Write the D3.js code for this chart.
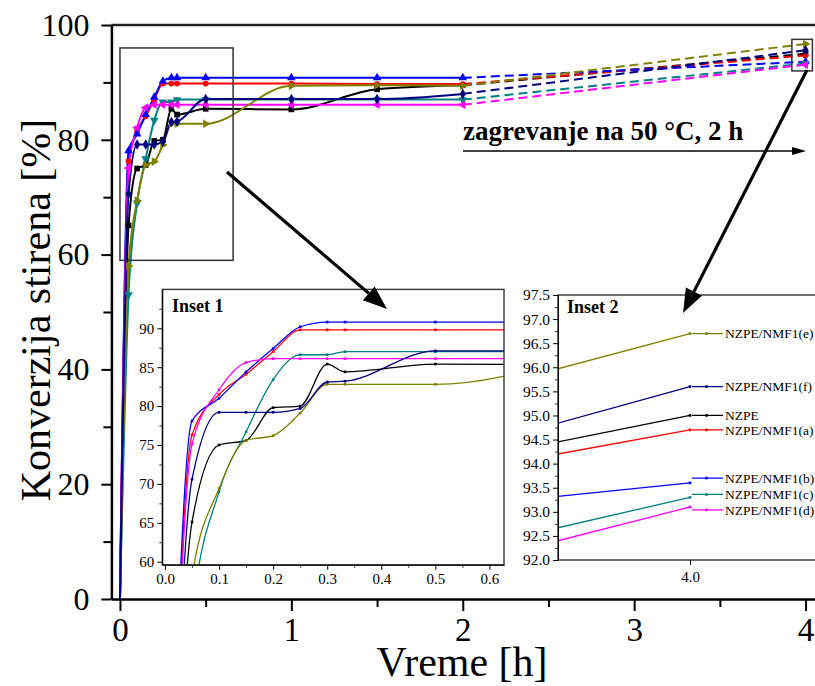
<!DOCTYPE html>
<html>
<head>
<meta charset="utf-8">
<script src="https://cdn.jsdelivr.net/npm/d3@7"></script>
<style>
body { margin: 0; background: #fff; }
svg { display: block; }
</style>
</head>
<body>
<svg id="chart" width="815" height="686"></svg>
<script>
// sampling times [h], conversion [%] per sample
var times = [0, 0.05, 0.1, 0.15, 0.2, 0.25, 0.3, 0.333, 0.5, 1.0, 1.5, 2.0];
var heatTimes = [2.0, 4.0];

var seriesNames = ["NZPE", "NZPE/NMF1(a)", "NZPE/NMF1(b)", "NZPE/NMF1(c)",
	"NZPE/NMF1(d)", "NZPE/NMF1(e)", "NZPE/NMF1(f)"];
var nzpe  = [0, 65.1, 75.0, 75.6, 79.8, 80.0, 85.4, 84.4, 85.4, 85.3, 88.8, 89.5];
var nmf1a = [0, 76.3, 81.5, 84.1, 87.0, 89.8, 89.8, 89.8, 89.8, 89.8, 89.7, 89.7];
var nmf1b = [0, 78.1, 81.0, 84.4, 87.4, 90.2, 90.8, 90.8, 90.8, 90.8, 90.8, 90.8];
var nmf1c = [0, 53.0, 69.0, 76.7, 83.4, 86.6, 86.6, 87.0, 87.0, 87.0, 87.0, 87.0];
var nmf1d = [0, 75.1, 82.1, 85.6, 86.1, 86.1, 86.1, 86.1, 86.1, 86.1, 86.1, 86.1];
var nmf1e = [0, 58.0, 69.4, 75.6, 76.2, 79.1, 82.8, 82.8, 82.8, 89.4, 89.5, 89.4];
var nmf1f = [0, 70.6, 79.2, 79.2, 79.2, 79.7, 83.1, 83.2, 87.1, 87.1, 87.1, 88.0];
// after heating at 50 °C for 2 h (t = 4 h)
var finalValues = [95.0, 94.7, 93.6, 93.3, 93.1, 96.7, 95.6];
// where each legend entry sits in inset 2
var legendValues = [95.0, 94.7, 93.7, 93.36, 93.04, 96.7, 95.6];

var mainXTicks = [0, 1, 2, 3, 4];
var mainXMinor = [0.5, 1.5, 2.5, 3.5];
var mainYTicks = [0, 20, 40, 60, 80, 100];
var mainYMinor = [10, 30, 50, 70, 90];
var in1XTicks = [0, 0.1, 0.2, 0.3, 0.4, 0.5, 0.6];
var in1XMinor = [0.05, 0.15, 0.25, 0.35, 0.45, 0.55];
var in1YTicks = [60, 65, 70, 75, 80, 85, 90];
var in1YMinor = [62.5, 67.5, 72.5, 77.5, 82.5, 87.5, 92.5];
var in2YTicks = [92, 92.5, 93, 93.5, 94, 94.5, 95, 95.5, 96, 96.5, 97, 97.5];
var in2YMinor = [92.25, 92.75, 93.25, 93.75, 94.25, 94.75, 95.25, 95.75, 96.25, 96.75, 97.25];
var in2XTicks = [4.0];

var colors = ["#000000", "#ff0000", "#0000ff", "#008080", "#ff00ff", "#808000", "#000080"];
var symbols = [d3.symbolSquare, d3.symbolCircle, d3.symbolTriangle, d3.symbolTriangle,
	d3.symbolTriangle, d3.symbolTriangle, d3.symbolDiamond];
var rotations = [0, 0, 0, 180, -90, 90, 0];

var allValues = [nzpe, nmf1a, nmf1b, nmf1c, nmf1d, nmf1e, nmf1f];
var series = seriesNames.map(function(name, i) {
	return {
		name: name,
		values: allValues[i],
		last: finalValues[i],
		legend: legendValues[i],
		color: colors[i],
		symbol: symbols[i],
		rot: rotations[i]
	};
});

function points(s) {
	return times.map(function(t, j) { return [t, s.values[j]]; });
}
function heatPoints(s) {
	return [[heatTimes[0], s.values[s.values.length - 1]], [heatTimes[1], s.last]];
}

var svg = d3.select("#chart");
var smooth = d3.curveMonotoneX;

// ---------- main chart ----------
var xM = d3.scaleLinear().domain([-0.05, 4.1]).range([111.4, 822.7]);
var yM = d3.scaleLinear().domain([0, 100]).range([599, 25]);

function styleAxis(g, size) {
	g.attr("font-family", null).attr("font-size", size);
	g.selectAll("text").attr("fill", "#000");
	g.selectAll("line").attr("stroke", "#000");
	g.select(".domain").attr("stroke", "#000");
}

var main = svg.append("g");
var lineM = d3.line().curve(smooth)
	.x(function(d) { return xM(d[0]); })
	.y(function(d) { return yM(d[1]); });
var straightM = d3.line()
	.x(function(d) { return xM(d[0]); })
	.y(function(d) { return yM(d[1]); });

series.forEach(function(s) {
	main.append("path")
		.attr("d", lineM(points(s)))
		.attr("fill", "none")
		.attr("stroke", s.color)
		.attr("stroke-width", 2);
	main.append("path")
		.attr("d", straightM(heatPoints(s)))
		.attr("fill", "none")
		.attr("stroke", s.color)
		.attr("stroke-width", 2)
		.attr("stroke-dasharray", "9,5");
});
series.forEach(function(s) {
	var pts = points(s).slice(1).concat([[heatTimes[1], s.last]]);
	main.selectAll(null).data(pts).enter().append("path")
		.attr("d", d3.symbol().type(s.symbol).size(s.symbol === d3.symbolCircle ? 26 : 32))
		.attr("transform", function(d) {
			return "translate(" + xM(d[0]) + "," + yM(d[1]) + ") rotate(" + s.rot + ")";
		})
		.attr("fill", s.color);
});

// frame
svg.append("line")
	.attr("x1", xM.range()[0]).attr("x2", 815)
	.attr("y1", yM(100)).attr("y2", yM(100))
	.attr("stroke", "#222").attr("stroke-width", 2.5);

var gy = svg.append("g").attr("transform", "translate(" + xM.range()[0] + ",0)")
	.call(d3.axisLeft(yM).tickValues(mainYTicks).tickSize(10).tickPadding(12).tickSizeOuter(0));
styleAxis(gy, 32);
gy.select(".domain").attr("stroke-width", 2.5);
gy.selectAll(".tick line").attr("stroke-width", 2);
var gyMinor = svg.append("g").attr("transform", "translate(" + xM.range()[0] + ",0)")
	.call(d3.axisLeft(yM).tickValues(mainYMinor).tickSize(8).tickFormat(""));
gyMinor.select(".domain").remove();
gyMinor.selectAll("line").attr("stroke", "#000").attr("stroke-width", 2);

var gx = svg.append("g").attr("transform", "translate(0," + yM(0) + ")")
	.call(d3.axisBottom(xM).tickValues(mainXTicks).tickSize(12).tickPadding(7)
		.tickSizeOuter(0).tickFormat(d3.format("d")));
styleAxis(gx, 33);
gx.select(".domain").attr("stroke-width", 2.5);
gx.selectAll(".tick line").attr("stroke-width", 2);
var gxMinor = svg.append("g").attr("transform", "translate(0," + yM(0) + ")")
	.call(d3.axisBottom(xM).tickValues(mainXMinor).tickSize(8).tickFormat(""));
gxMinor.select(".domain").remove();
gxMinor.selectAll("line").attr("stroke", "#000").attr("stroke-width", 2);

svg.append("text")
	.attr("transform", "translate(50,310) rotate(-90)")
	.attr("text-anchor", "middle")
	.attr("font-size", 42)
	.text("Konverzija stirena [%]");
svg.append("text")
	.attr("x", 462).attr("y", 676)
	.attr("text-anchor", "middle")
	.attr("font-size", 42)
	.text("Vreme [h]");

// zoom boxes on the main chart
svg.append("rect")
	.attr("x", xM(0)).attr("y", yM(96))
	.attr("width", xM(0.66) - xM(0)).attr("height", yM(59) - yM(96))
	.attr("fill", "none").attr("stroke", "#333").attr("stroke-width", 1.5);
svg.append("rect")
	.attr("x", xM(3.92)).attr("y", yM(97.5))
	.attr("width", xM(4.04) - xM(3.92)).attr("height", yM(92) - yM(97.5))
	.attr("fill", "none").attr("stroke", "#333").attr("stroke-width", 1.5);

// ---------- inset 1 ----------
var x1 = d3.scaleLinear().domain([-0.005, 0.627]).range([162.3, 504]);
var y1 = d3.scaleLinear().domain([59.6, 95]).range([564.8, 289.4]);
var in1 = svg.append("g");
in1.append("rect")
	.attr("x", x1.range()[0]).attr("y", y1.range()[1])
	.attr("width", x1.range()[1] - x1.range()[0]).attr("height", y1.range()[0] - y1.range()[1])
	.attr("fill", "#fff");
svg.append("clipPath").attr("id", "clip1").append("rect")
	.attr("x", x1.range()[0]).attr("y", y1.range()[1])
	.attr("width", x1.range()[1] - x1.range()[0]).attr("height", y1.range()[0] - y1.range()[1]);
var line1 = d3.line().curve(smooth)
	.x(function(d) { return x1(d[0]); })
	.y(function(d) { return y1(d[1]); });
var plot1 = in1.append("g").attr("clip-path", "url(#clip1)");
series.forEach(function(s) {
	plot1.append("path")
		.attr("d", line1(points(s)))
		.attr("fill", "none")
		.attr("stroke", s.color)
		.attr("stroke-width", 1.3);
	plot1.selectAll(null).data(points(s).slice(1, 9)).enter().append("rect")
		.attr("x", function(d) { return x1(d[0]) - 1.3; })
		.attr("y", function(d) { return y1(d[1]) - 1.3; })
		.attr("width", 2.6).attr("height", 2.6)
		.attr("fill", s.color);
});
in1.append("rect")
	.attr("x", x1.range()[0]).attr("y", y1.range()[1])
	.attr("width", x1.range()[1] - x1.range()[0]).attr("height", y1.range()[0] - y1.range()[1])
	.attr("fill", "none").attr("stroke", "#333").attr("stroke-width", 1.4);
var g1y = in1.append("g").attr("transform", "translate(" + x1.range()[0] + ",0)")
	.call(d3.axisLeft(y1).tickValues(in1YTicks).tickSize(5).tickPadding(3).tickSizeOuter(0));
styleAxis(g1y, 15);
var g1yMinor = in1.append("g").attr("transform", "translate(" + x1.range()[0] + ",0)")
	.call(d3.axisLeft(y1).tickValues(in1YMinor).tickSize(3).tickFormat(""));
g1yMinor.select(".domain").remove();
g1yMinor.selectAll("line").attr("stroke", "#333");
var g1x = in1.append("g").attr("transform", "translate(0," + y1.range()[0] + ")")
	.call(d3.axisBottom(x1).tickValues(in1XTicks).tickSize(5).tickPadding(4)
		.tickSizeOuter(0).tickFormat(d3.format(".1f")));
styleAxis(g1x, 15);
var g1xMinor = in1.append("g").attr("transform", "translate(0," + y1.range()[0] + ")")
	.call(d3.axisBottom(x1).tickValues(in1XMinor).tickSize(3).tickFormat(""));
g1xMinor.select(".domain").remove();
g1xMinor.selectAll("line").attr("stroke", "#333");
in1.append("text")
	.attr("x", 172).attr("y", 312)
	.attr("font-size", 18).attr("font-weight", "bold")
	.text("Inset 1");

// ---------- inset 2 ----------
var x2 = d3.scaleLinear().domain([3.8, 4.19]).range([558, 815.4]);
var y2 = d3.scaleLinear().domain([92, 97.5]).range([560, 295]);
var in2 = svg.append("g");
in2.append("rect")
	.attr("x", x2.range()[0]).attr("y", y2.range()[1])
	.attr("width", x2.range()[1] - x2.range()[0] + 5).attr("height", y2.range()[0] - y2.range()[1])
	.attr("fill", "#fff").attr("stroke", "#333").attr("stroke-width", 1.4);
svg.append("clipPath").attr("id", "clip2").append("rect")
	.attr("x", x2.range()[0]).attr("y", y2.range()[1])
	.attr("width", x2.range()[1] - x2.range()[0]).attr("height", y2.range()[0] - y2.range()[1]);
var line2 = d3.line()
	.x(function(d) { return x2(d[0]); })
	.y(function(d) { return y2(d[1]); });
var plot2 = in2.append("g").attr("clip-path", "url(#clip2)");
series.forEach(function(s) {
	plot2.append("path")
		.attr("d", line2(heatPoints(s)))
		.attr("fill", "none")
		.attr("stroke", s.color)
		.attr("stroke-width", 1.3);
	plot2.append("rect")
		.attr("x", x2(heatTimes[1]) - 1.3).attr("y", y2(s.last) - 1.3)
		.attr("width", 2.6).attr("height", 2.6)
		.attr("fill", s.color);
	// legend entry
	plot2.append("line")
		.attr("x1", x2(4.003)).attr("x2", x2(4.05))
		.attr("y1", y2(s.legend)).attr("y2", y2(s.legend))
		.attr("stroke", s.color).attr("stroke-width", 1.3);
	plot2.append("rect")
		.attr("x", x2(4.025) - 1.3).attr("y", y2(s.legend) - 1.3)
		.attr("width", 2.6).attr("height", 2.6)
		.attr("fill", s.color);
	plot2.append("text")
		.attr("x", x2(4.05) + 2).attr("y", y2(s.legend))
		.attr("dy", "0.35em")
		.attr("font-size", 13.5)
		.text(s.name);
});
var g2y = in2.append("g").attr("transform", "translate(" + x2.range()[0] + ",0)")
	.call(d3.axisLeft(y2).tickValues(in2YTicks).tickSize(5).tickPadding(3).tickSizeOuter(0)
		.tickFormat(d3.format(".1f")));
styleAxis(g2y, 15.5);
var g2yMinor = in2.append("g").attr("transform", "translate(" + x2.range()[0] + ",0)")
	.call(d3.axisLeft(y2).tickValues(in2YMinor).tickSize(3).tickFormat(""));
g2yMinor.select(".domain").remove();
g2yMinor.selectAll("line").attr("stroke", "#333");
var g2x = in2.append("g").attr("transform", "translate(0," + y2.range()[0] + ")")
	.call(d3.axisBottom(x2).tickValues(in2XTicks).tickSize(5).tickPadding(6)
		.tickSizeOuter(0).tickFormat(d3.format(".1f")));
styleAxis(g2x, 15);
g2x.select(".domain").remove();
in2.append("text")
	.attr("x", 567).attr("y", 313)
	.attr("font-size", 18).attr("font-weight", "bold")
	.text("Inset 2");

// ---------- annotations ----------
function arrow(x0, y0, x1, y1, width, headLen, headHalf) {
	var a = Math.atan2(y1 - y0, x1 - x0);
	var bx = x1 - headLen * Math.cos(a), by = y1 - headLen * Math.sin(a);
	svg.append("line")
		.attr("x1", x0).attr("y1", y0).attr("x2", bx).attr("y2", by)
		.attr("stroke", "#000").attr("stroke-width", width);
	var px = -Math.sin(a) * headHalf, py = Math.cos(a) * headHalf;
	svg.append("path")
		.attr("d", "M" + x1 + "," + y1 + "L" + (bx + px) + "," + (by + py) +
			"L" + (bx - px) + "," + (by - py) + "Z")
		.attr("fill", "#000");
}
arrow(227, 172, 387, 309, 3.2, 24, 9);
arrow(807, 70, 683, 313, 3.2, 24, 9);
arrow(463, 151, 806, 151, 1.4, 14, 4);

svg.append("text")
	.attr("x", 463).attr("y", 140)
	.attr("font-size", 27).attr("font-weight", "bold")
	.text("zagrevanje na 50 °C, 2 h");

// serif face on every label
svg.selectAll("text").style("font-family", "'Liberation Serif', 'Times New Roman', Tinos");
</script>
</body>
</html>
